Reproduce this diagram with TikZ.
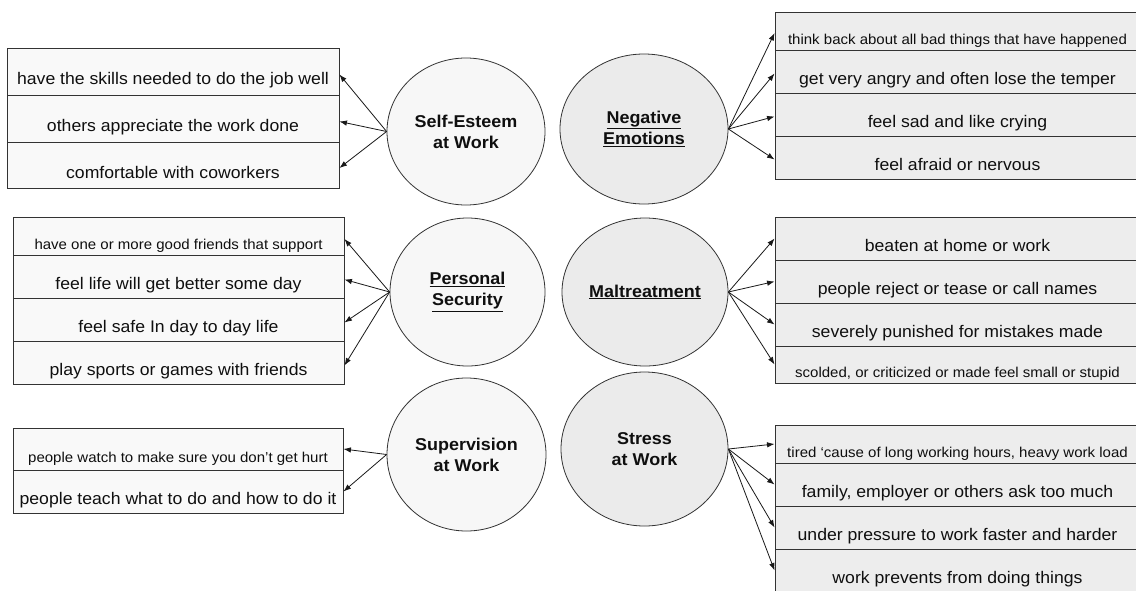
\documentclass[tikz,border=0pt]{standalone}
\usepackage{fontspec}
\setmainfont{Liberation Sans}[FakeStretch=1.05]
\usetikzlibrary{shapes.geometric,arrows.meta}
\definecolor{edgec}{HTML}{333333}
\definecolor{fillL}{HTML}{F9F9F9}
\definecolor{fillR}{HTML}{EDEDED}
\definecolor{ellL}{HTML}{F7F7F7}
\definecolor{ellR}{HTML}{EBEBEB}
\definecolor{ink}{HTML}{0F0F0F}
\begin{document}
\begin{tikzpicture}[x=1pt,y=-1pt,
 rowbox/.style={draw=edgec, line width=0.9pt, rectangle, inner sep=0pt,
   text height=29pt, text depth=3pt, text=ink, font=\fontsize{16.8}{20}\selectfont},
 leftrow/.style={rowbox, fill=fillL},
 rightrow/.style={rowbox, fill=fillR},
 smalltxt/.style={font=\fontsize{14.3}{17}\selectfont},
 topic/.style={ellipse, draw=edgec, line width=0.8pt, inner sep=0pt, align=center,
   text=ink, font=\bfseries\fontsize{17.1}{21}\selectfont},
 topicL/.style={topic, fill=ellL},
 topicR/.style={topic, fill=ellR},
 link/.style={draw=black!90, line width=0.8pt, -{Latex[length=7.5pt,width=5.5pt]}}
]
\useasboundingbox[fill=white] (0,0) rectangle (1136,590);

% ---------- topics ----------
\node[topicL, minimum width=158pt, minimum height=147pt] (se) at (466,131.5) {Self-Esteem\\at Work};
\node[topicR, minimum width=168pt, minimum height=150pt] (ne) at (644,129) {\underline{Negative}\\\underline{Emotions}};
\node[topicL, minimum width=155pt, minimum height=148pt] (ps) at (467.5,292) {\underline{Personal}\\\underline{Security}};
\node[topicR, minimum width=166pt, minimum height=148pt] (mt) at (645,292) {\underline{Maltreatment}};
\node[topicL, minimum width=159pt, minimum height=153pt] (sw) at (466.5,454.5) {Supervision\\at Work};
\node[topicR, minimum width=167pt, minimum height=154pt] (st) at (644.5,449) {Stress\\at Work};

% ---------- left boxes ----------
\node[leftrow, minimum width=332pt, minimum height=47pt] (se1) at (173,71.5) {have the skills needed to do the job well};
\node[leftrow, minimum width=332pt, minimum height=47pt] (se2) at (173,118.5) {others appreciate the work done};
\node[leftrow, minimum width=332pt, minimum height=46pt] (se3) at (173,165) {comfortable with coworkers};

\node[leftrow, smalltxt, minimum width=331pt, minimum height=38pt] (ps1) at (178.5,236) {have one or more good friends that support};
\node[leftrow, minimum width=331pt, minimum height=43pt] (ps2) at (178.5,276.5) {feel life will get better some day};
\node[leftrow, minimum width=331pt, minimum height=43pt] (ps3) at (178.5,319.5) {feel safe In day to day life};
\node[leftrow, minimum width=331pt, minimum height=43pt] (ps4) at (178.5,362.5) {play sports or games with friends};

\node[leftrow, smalltxt, minimum width=330pt, minimum height=42pt] (sw1) at (178,449) {people watch to make sure you don’t get hurt};
\node[leftrow, minimum width=330pt, minimum height=43pt] (sw2) at (178,491.5) {people teach what to do and how to do it};

% ---------- right boxes ----------
\node[rightrow, smalltxt, minimum width=365pt, minimum height=38pt] (ne1) at (957.5,31) {think back about all bad things that have happened};
\node[rightrow, minimum width=365pt, minimum height=43pt] (ne2) at (957.5,71.5) {get very angry and often lose the temper};
\node[rightrow, minimum width=365pt, minimum height=43pt] (ne3) at (957.5,114.5) {feel sad and like crying};
\node[rightrow, minimum width=365pt, minimum height=43pt] (ne4) at (957.5,157.5) {feel afraid or nervous};

\node[rightrow, minimum width=365pt, minimum height=43pt] (mt1) at (957.5,238.5) {beaten at home or work};
\node[rightrow, minimum width=365pt, minimum height=43pt] (mt2) at (957.5,281.5) {people reject or tease or call names};
\node[rightrow, minimum width=365pt, minimum height=43pt] (mt3) at (957.5,324.5) {severely punished for mistakes made};
\node[rightrow, smalltxt, minimum width=365pt, minimum height=37pt] (mt4) at (957.5,364.5) {scolded, or criticized or made feel small or stupid};

\node[rightrow, smalltxt, minimum width=365pt, minimum height=38pt] (st1) at (957.5,444) {tired ‘cause of long working hours, heavy work load};
\node[rightrow, minimum width=365pt, minimum height=43pt] (st2) at (957.5,484.5) {family, employer or others ask too much};
\node[rightrow, minimum width=365pt, minimum height=43pt] (st3) at (957.5,527.5) {under pressure to work faster and harder};
\node[rightrow, minimum width=365pt, minimum height=43pt] (st4) at (957.5,570.5) {work prevents from doing things};

% ---------- connectors ----------
\foreach \r in {se1,se2,se3} \draw[link] (se.west) -- ([yshift=-3pt]\r.east);
\foreach \r in {ps1,ps2,ps3,ps4} \draw[link] (ps.west) -- ([yshift=-3pt]\r.east);
\foreach \r in {sw1,sw2} \draw[link] (sw.west) -- (\r.east);
\foreach \r in {ne1,ne2,ne3,ne4} \draw[link] (ne.east) -- ([yshift=-2pt]\r.west);
\foreach \r in {mt1,mt2,mt3,mt4} \draw[link] (mt.east) -- (\r.west);
\foreach \r in {st1,st2,st3,st4} \draw[link] (st.east) -- (\r.west);
\end{tikzpicture}
\end{document}
